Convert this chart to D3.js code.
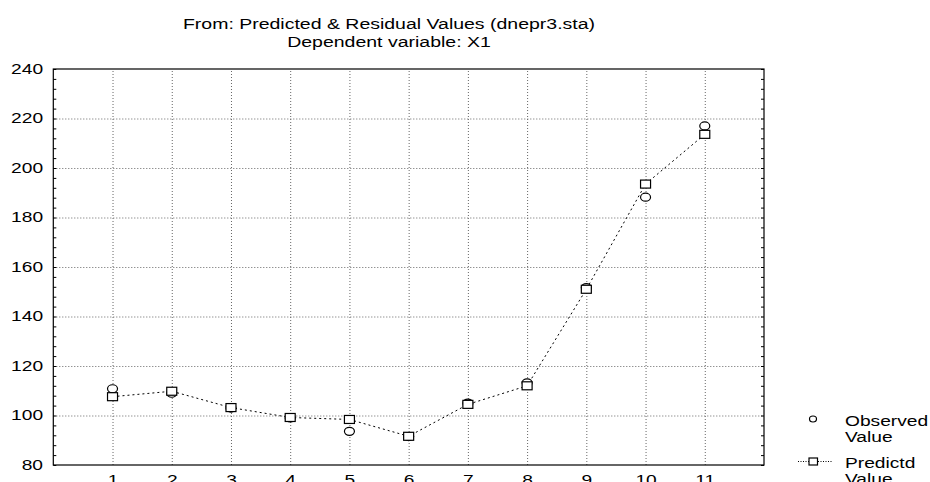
<!DOCTYPE html>
<html>
<head>
<meta charset="utf-8">
<script src="https://cdn.jsdelivr.net/npm/d3@7"></script>
<style>
  body { margin: 0; background: #fff; }
  svg { display: block; font-family: "Liberation Sans", Arial, sans-serif; }
</style>
</head>
<body>
<svg id="chart" width="930" height="482"></svg>
<script>
// data
const cases = [1, 2, 3, 4, 5, 6, 7, 8, 9, 10, 11];
const observed = [110.8, 109.0, 103.0, 99.0, 93.6, 91.5, 105.0, 113.2, 151.7, 188.2, 217.0];
const predicted = [107.6, 109.8, 103.2, 99.2, 98.4, 91.6, 104.5, 112.0, 151.0, 193.5, 213.6];
const yTicks = [80, 100, 120, 140, 160, 180, 200, 220, 240];
const yMinor = d3.range(80, 241, 4);
const titleLines = ['From: Predicted & Residual Values (dnepr3.sta)', 'Dependent variable: X1'];
const legendItems = [['Observed', 'Value'], ['Predictd', 'Value']];

const stretch = 1.37; // text in the source is wide
const svg = d3.select('#chart');
const margin = { top: 69, right: 166, bottom: 17, left: 53.3 };
const width = 930 - margin.left - margin.right;
const height = 482 - margin.top - margin.bottom;

const x = d3.scaleLinear().domain([0, 12]).range([0, width]);
const y = d3.scaleLinear().domain([80, 240]).range([height, 0]);

const chart = svg.append('g').attr('transform', `translate(${margin.left},${margin.top})`);

// grid
chart.append('g')
  .call(d3.axisLeft(y).tickValues(yTicks.slice(1, -1)).tickSize(-width).tickFormat(''))
  .call(g => g.select('.domain').remove())
  .selectAll('line').attr('stroke', '#666').attr('stroke-dasharray', '1,2');
chart.append('g')
  .attr('transform', `translate(0,${height})`)
  .call(d3.axisBottom(x).tickValues(cases).tickSize(-height).tickFormat(''))
  .call(g => g.select('.domain').remove())
  .selectAll('line').attr('stroke', '#666').attr('stroke-dasharray', '1,2');

// frame
chart.append('rect')
  .attr('width', width).attr('height', height)
  .attr('fill', 'none').attr('stroke', '#000').attr('stroke-width', 1.2);

// minor ticks, left and right, pointing in
chart.append('g')
  .call(d3.axisLeft(y).tickValues(yMinor).tickSize(-3).tickFormat(''))
  .call(g => g.select('.domain').remove());
chart.append('g')
  .attr('transform', `translate(${width},0)`)
  .call(d3.axisRight(y).tickValues(yMinor).tickSize(-3).tickFormat(''))
  .call(g => g.select('.domain').remove());

// y labels
chart.append('g')
  .call(d3.axisLeft(y).tickValues(yTicks).tickSize(0).tickPadding(7.5))
  .call(g => g.select('.domain').remove())
  .selectAll('text')
  .attr('font-size', 14).attr('font-family', '"Liberation Sans", Arial, sans-serif')
  .attr('fill', '#000')
  .attr('transform', `scale(${stretch},1)`);

// x labels (cut by the bottom edge, as in the source)
chart.append('g')
  .attr('transform', `translate(0,${height})`)
  .call(d3.axisBottom(x).tickValues(cases).tickSize(0).tickPadding(10))
  .call(g => g.select('.domain').remove())
  .selectAll('text')
  .attr('font-size', 14).attr('font-family', '"Liberation Sans", Arial, sans-serif')
  .attr('fill', '#000')
  .attr('transform', `scale(${stretch},1)`);

// predicted line
const line = d3.line().x((d, i) => x(cases[i])).y(d => y(d));
chart.append('path')
  .datum(predicted)
  .attr('d', line)
  .attr('fill', 'none').attr('stroke', '#000')
  .attr('stroke-width', 1).attr('stroke-dasharray', '2,3');

// observed circles
chart.append('g').selectAll('ellipse')
  .data(observed)
  .join('ellipse')
  .attr('cx', (d, i) => x(cases[i]))
  .attr('cy', d => y(d))
  .attr('rx', 5).attr('ry', 4)
  .attr('fill', '#fff').attr('stroke', '#000').attr('stroke-width', 1.2);

// predicted squares
chart.append('g').selectAll('rect')
  .data(predicted)
  .join('rect')
  .attr('x', (d, i) => x(cases[i]) - 5)
  .attr('y', d => y(d) - 4)
  .attr('width', 10).attr('height', 8)
  .attr('fill', '#fff').attr('stroke', '#000').attr('stroke-width', 1.2);

// title
svg.append('g').selectAll('text')
  .data(titleLines)
  .join('text')
  .attr('transform', (d, i) => `translate(389,${28.5 + i * 18.5}) scale(1.3,1)`)
  .attr('text-anchor', 'middle')
  .attr('font-size', 15)
  .attr('fill', '#000')
  .text(d => d);

// legend
const legend = svg.append('g');
const rows = [419, 461.5];
legend.append('ellipse')
  .attr('cx', 813).attr('cy', rows[0]).attr('rx', 3.5).attr('ry', 3)
  .attr('fill', '#fff').attr('stroke', '#000').attr('stroke-width', 1.2);
legend.append('line')
  .attr('x1', 798).attr('x2', 833).attr('y1', rows[1]).attr('y2', rows[1])
  .attr('stroke', '#000').attr('stroke-dasharray', '1,1.5');
legend.append('rect')
  .attr('x', 809).attr('y', rows[1] - 3.5).attr('width', 8.5).attr('height', 7)
  .attr('fill', '#fff').attr('stroke', '#000').attr('stroke-width', 1.2);
legendItems.forEach((item, k) => {
  item.forEach((s, j) => {
    legend.append('text')
      .attr('transform', `translate(845,${rows[k] + 6.5 + j * 16}) scale(${stretch},1)`)
      .attr('font-size', 14)
      .attr('fill', '#000')
      .text(s);
  });
});
</script>
</body>
</html>
